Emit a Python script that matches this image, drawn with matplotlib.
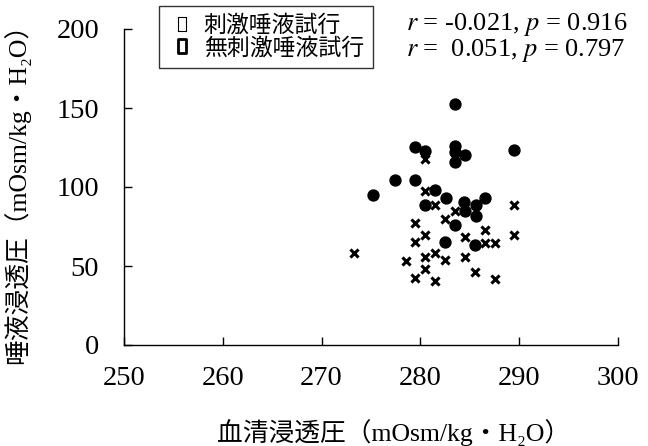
import matplotlib
matplotlib.use("Agg")
import matplotlib.pyplot as plt
from matplotlib.lines import Line2D
from matplotlib.path import Path

plt.rcParams['font.family'] = ['Liberation Serif', 'Noto Sans CJK JP', 'DejaVu Sans']
plt.rcParams['mathtext.fontset'] = 'stix'

# Stimulated saliva trial (x markers)
stim_x = [280.5, 280.5, 281.5, 283.5, 289.5, 279.5, 282.5, 286.5, 280.5, 284.5,
          289.5, 279.5, 286.5, 287.5, 273.3, 280.5, 281.5, 278.5, 282.5, 284.5,
          280.5, 279.5, 281.5, 285.5, 287.5]
stim_y = [117.5, 97.5, 88.5, 85.0, 88.5, 77.5, 79.5, 73.0, 69.5, 68.5,
          69.5, 65.0, 64.5, 64.5, 58.5, 56.0, 58.0, 53.0, 54.0, 56.0,
          48.0, 42.5, 40.5, 46.0, 42.0]

# Unstimulated saliva trial (filled circles)
unstim_x = [283.5, 279.5, 280.5, 283.5, 283.5, 284.5, 283.5, 289.5, 277.4, 279.5,
            275.2, 281.5, 282.6, 280.5, 284.4, 285.6, 286.5, 285.6, 284.5, 283.5,
            282.5, 285.5]
unstim_y = [152.5, 125.5, 123.0, 126.0, 122.0, 120.0, 116.0, 123.5, 104.5, 104.5,
            95.0, 98.0, 93.0, 88.5, 90.5, 88.5, 93.0, 81.5, 84.5, 76.0,
            65.5, 63.5]

legend_labels = ['刺激唾液試行', '無刺激唾液試行']
stats_lines = [r'$r$ = -0.021, $p$ = 0.916', r'$r$ =  0.051, $p$ = 0.797']

fig = plt.figure(figsize=(6.48, 4.46), dpi=100)
ax = fig.add_axes([124 / 648, 1 - 345 / 446, 494 / 648, 316 / 446])

ax.scatter(unstim_x, unstim_y, s=62, marker='o', color='black', zorder=2)
ax.scatter(stim_x, stim_y, s=34, marker='x', color='black', linewidths=2.2, zorder=3)

ax.set_xlim(250, 300)
ax.set_ylim(0, 200)
ax.set_xticks(range(250, 301, 10))
ax.set_yticks(range(0, 201, 50))
ax.spines['top'].set_visible(False)
ax.spines['right'].set_visible(False)
for s in ['left', 'bottom']:
    ax.spines[s].set_linewidth(1.0)
ax.tick_params(axis='x', direction='in', length=6, width=1, labelsize=20.5, pad=15)
ax.tick_params(axis='y', direction='in', length=6, width=1, labelsize=20.5, pad=18)

ax.set_xlabel('血清浸透圧（mOsm/kg・H₂O）', fontsize=18.5)
ax.xaxis.set_label_coords(0.545, -0.235)
ax.set_ylabel('唾液浸透圧（mOsm/kg・H₂O）', fontsize=18.5)
ax.yaxis.set_label_coords(-0.19, 0.5)

# legend with small placeholder boxes as markers
box = Path([(-0.3, -0.5), (0.3, -0.5), (0.3, 0.5), (-0.3, 0.5), (-0.3, -0.5)],
           [Path.MOVETO, Path.LINETO, Path.LINETO, Path.LINETO, Path.CLOSEPOLY])
handles = [
    Line2D([], [], linestyle='none', marker=box, markersize=10, markerfacecolor='white',
           markeredgecolor='black', markeredgewidth=0.8),
    Line2D([], [], linestyle='none', marker=box, markersize=10, markerfacecolor='white',
           markeredgecolor='black', markeredgewidth=2.0),
]
leg = fig.legend(handles, legend_labels, loc='upper left', bbox_to_anchor=(159 / 648, 1 - 6 / 446),
                 frameon=True, fancybox=False, edgecolor='black', fontsize=16.5,
                 handlelength=1.2, handletextpad=0.35, borderpad=0.4, labelspacing=0.02,
                 borderaxespad=0)
leg.get_frame().set_linewidth(1.0)

for i, line in enumerate(stats_lines):
    fig.text(406 / 648, 1 - (25 + 25 * i) / 446, line, fontsize=19, va='center', ha='left')

fig.savefig('out.png', dpi=100)
